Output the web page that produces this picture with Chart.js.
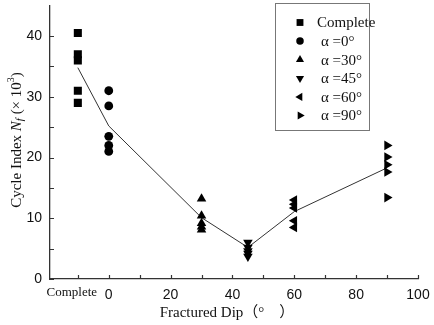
<!DOCTYPE html>
<html><head><meta charset="utf-8">
<script src="https://cdn.jsdelivr.net/npm/chart.js@4/dist/chart.umd.min.js"></script>
<style>html,body{margin:0;padding:0;background:#fff}canvas{display:block}</style>
</head><body>
<canvas id="c" width="434" height="325"></canvas>
<script>
// ---- data ----
const dips = [-10, 0, 30, 45, 60, 90];           // -10 = "Complete"
const completeVals = [40.5, 37, 36, 31, 29];
const a0Vals  = [31, 28.5, 23.5, 22, 21];
const a30Vals = [13.2, 10.4, 9.2, 8.6, 8.1];
const a45Vals = [6, 5.2, 4.6, 4.2, 3.7];
const a60Vals = [13, 12.3, 11.7, 9.6, 8.5];
const a90Vals = [22, 20.1, 18.8, 17.6, 13.4];
const meanVals = [34.8, 25.2, 10.1, 5.2, 11.1, 18.3];
const seriesLabels = ['Complete', 'α =0°', 'α =30°', 'α =45°', 'α =60°', 'α =90°'];
const xTickValues = [-10, 0, 10, 20, 30, 40, 50, 60, 70, 80, 90, 100];
const xLabeled = [0, 20, 40, 60, 80, 100];
const completeTickLabel = 'Complete';
const yTickValues = [0, 10, 20, 30, 40];
const yMinorTicks = [0, 5, 10, 15, 20, 25, 30, 35, 40];
const xTitle = 'Fractured Dip（°　）';

const groups = [completeVals, a0Vals, a30Vals, a45Vals, a60Vals, a90Vals];
const styles = [
  {pointStyle: 'rect', radius: 5.7, rotation: 0},
  {pointStyle: 'circle', radius: 4.4, rotation: 0},
  {pointStyle: 'triangle', radius: 5.5, rotation: 0},
  {pointStyle: 'triangle', radius: 5.5, rotation: 180},
  {pointStyle: 'triangle', radius: 5.5, rotation: -90},
  {pointStyle: 'triangle', radius: 5.5, rotation: 90}
];

const datasets = groups.map((vals, i) => ({
  type: 'scatter',
  label: seriesLabels[i],
  data: vals.map(v => ({x: dips[i], y: v})),
  pointStyle: styles[i].pointStyle,
  pointRadius: styles[i].radius,
  pointRotation: styles[i].rotation,
  backgroundColor: '#000',
  borderColor: '#000',
  borderWidth: 0,
  pointHoverRadius: styles[i].radius
}));
datasets.push({
  type: 'line',
  label: 'mean',
  data: dips.map((d, i) => ({x: d, y: meanVals[i]})),
  borderColor: '#333',
  borderWidth: 1,
  pointRadius: 0,
  fill: false,
  tension: 0
});

const serif = '"Liberation Serif", "Times New Roman", serif';
const sans = '"Liberation Sans", Arial, sans-serif';

const decor = {
  id: 'decor',
  afterDraw(chart) {
    const ctx = chart.ctx;
    const xs = chart.scales.x, ys = chart.scales.y;
    const y0 = ys.getPixelForValue(0), x0 = xs.left;
    ctx.save();
    ctx.strokeStyle = '#333';
    ctx.lineWidth = 1.2;
    // inside ticks
    ctx.beginPath();
    xTickValues.forEach(v => {
      const px = Math.round(xs.getPixelForValue(v)) + 0.5;
      ctx.moveTo(px, y0); ctx.lineTo(px, y0 - 4);
    });
    yMinorTicks.forEach(v => {
      const py = Math.round(ys.getPixelForValue(v)) + 0.5;
      ctx.moveTo(x0, py); ctx.lineTo(x0 + 4, py);
    });
    ctx.stroke();
    // "Complete" tick label
    ctx.fillStyle = '#111';
    ctx.font = '13px ' + serif;
    ctx.textAlign = 'center';
    ctx.textBaseline = 'middle';
    ctx.fillText(completeTickLabel, xs.getPixelForValue(-10) - 6, y0 + 14);
    // x title
    ctx.font = '15px ' + serif + ', "Noto Sans CJK SC"';
    ctx.fillText(xTitle, 227, 313);
    // y title (rotated, mixed styles)
    ctx.save();
    ctx.translate(17, 140);
    ctx.rotate(-Math.PI / 2);
    const parts = [
      {t: 'Cycle Index ', f: '15px ' + serif, dy: 0},
      {t: 'N', f: 'italic 15px ' + serif, dy: 0},
      {t: 'f', f: 'italic 11px ' + serif, dy: 3},
      {t: ' (× 10', f: '15px ' + serif, dy: 0},
      {t: '3', f: '10px ' + serif, dy: -6},
      {t: ')', f: '15px ' + serif, dy: 0}
    ];
    let total = 0;
    parts.forEach(p => { ctx.font = p.f; p.w = ctx.measureText(p.t).width; total += p.w; });
    let cx = -total / 2;
    ctx.textAlign = 'left';
    parts.forEach(p => { ctx.font = p.f; ctx.fillText(p.t, cx, p.dy); cx += p.w; });
    ctx.restore();
    // legend box
    ctx.strokeStyle = '#777';
    ctx.lineWidth = 1;
    ctx.strokeRect(275.5, 3.5, 94, 127);
    ctx.font = '15px ' + serif;
    ctx.textAlign = 'left';
    seriesLabels.forEach((lab, i) => {
      const ly = 22.5 + i * 18.6;
      ctx.fillStyle = '#000';
      Chart.helpers.drawPoint(ctx, {pointStyle: styles[i].pointStyle, radius: styles[i].radius * 0.85, rotation: styles[i].rotation, borderWidth: 0}, 300, ly);
      ctx.fillStyle = '#111';
      ctx.fillText(lab, i === 0 ? 317 : 321, ly + 1);
    });
    ctx.restore();
  }
};

new Chart(document.getElementById('c'), {
  data: {datasets},
  options: {
    responsive: false,
    devicePixelRatio: 1,
    animation: false,
    events: [],
    layout: {padding: {top: 5, right: 16, left: 0, bottom: 0}},
    plugins: {legend: {display: false}, tooltip: {enabled: false}},
    scales: {
      x: {
        type: 'linear', min: -19, max: 100,
        afterBuildTicks: s => { s.ticks = xTickValues.map(v => ({value: v})); },
        afterFit: s => { s.height = 46; s.paddingLeft = 0; s.paddingRight = 0; },
        grid: {display: false, drawTicks: false},
        border: {display: true, color: '#333', width: 1.3},
        ticks: {
          autoSkip: false, maxRotation: 0, padding: 8, color: '#111',
          font: {family: sans, size: 14},
          callback: v => xLabeled.includes(v) ? String(v) : ''
        }
      },
      y: {
        type: 'linear', min: 0, max: 45,
        afterBuildTicks: s => { s.ticks = yTickValues.map(v => ({value: v})); },
        afterFit: s => { s.width = 50; s.paddingTop = 0; s.paddingBottom = 0; },
        grid: {display: false, drawTicks: false},
        border: {display: true, color: '#333', width: 1.3},
        ticks: {padding: 8, color: '#111', font: {family: sans, size: 14}}
      }
    }
  },
  plugins: [decor]
});
</script>
</body></html>
